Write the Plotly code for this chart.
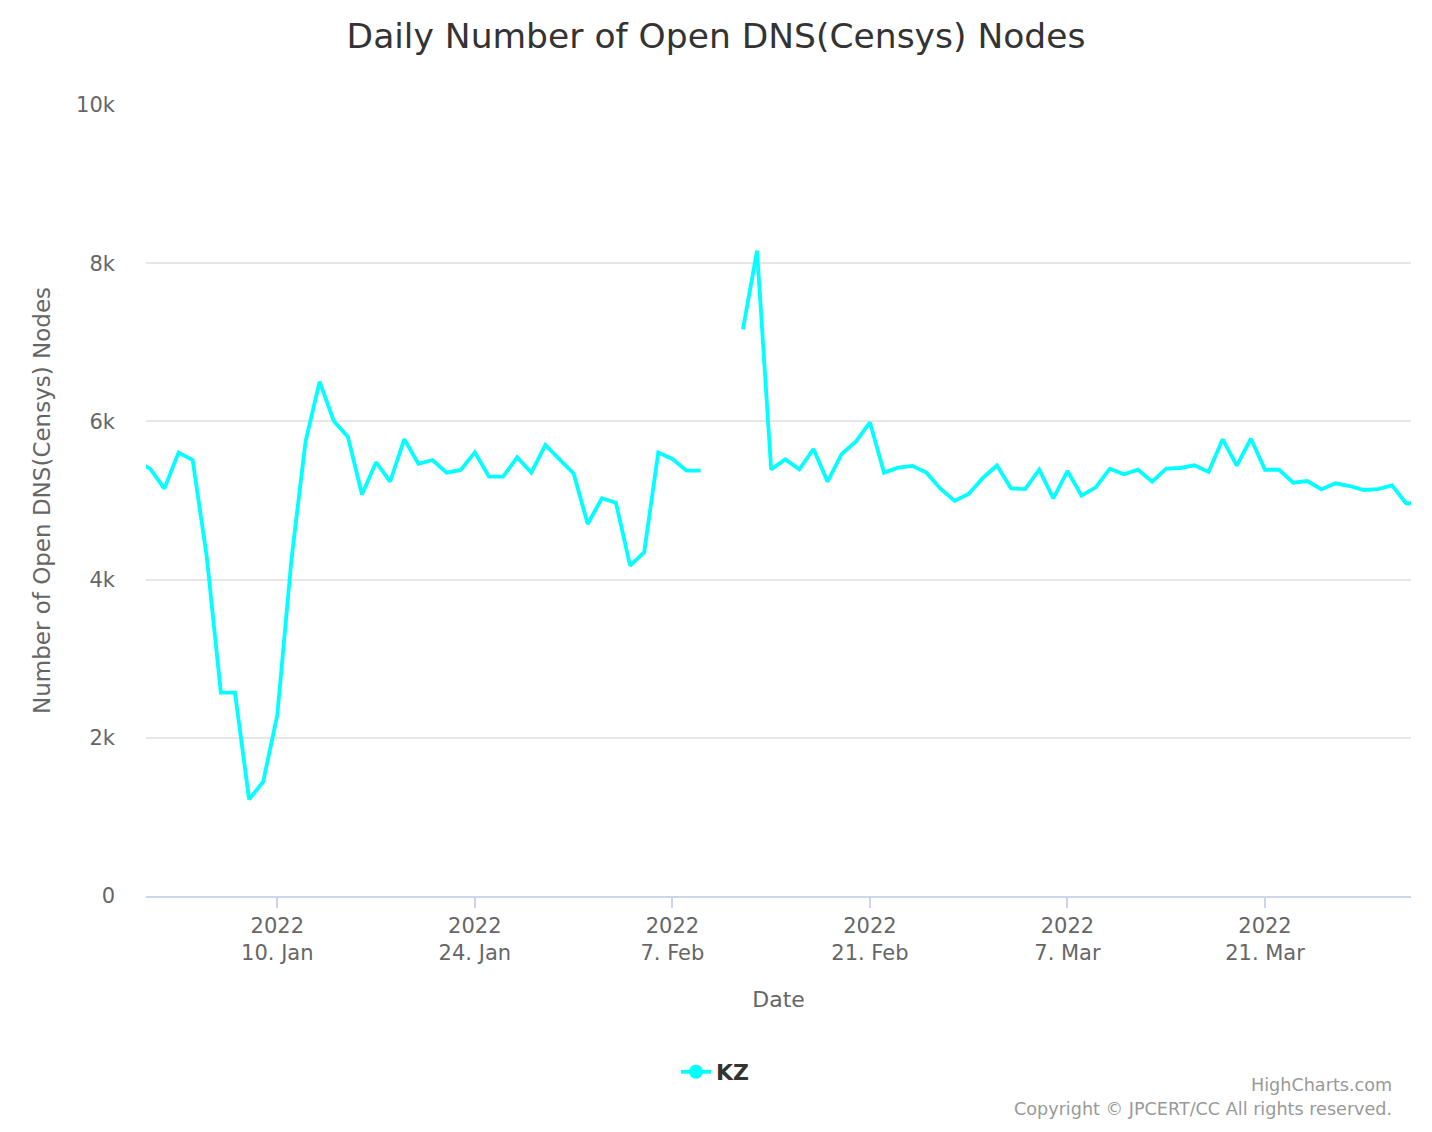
import plotly.graph_objects as go
import pandas as pd

# daily counts, Dec 31 2021 .. Apr 1 2022 (edges clipped by the axis range)
dec_2021 = [5500]
jan_2022 = [5400, 5150, 5605, 5512, 4290, 2570, 2570, 1222, 1445, 2288,
            4250, 5744, 6502, 6005, 5807, 5075, 5483, 5240, 5775, 5465,
            5512, 5352, 5386, 5609, 5301, 5301, 5546, 5352, 5702, 5520,
            5343]
feb_2022 = [4703, 5028, 4972, 4176, 4345, 5605, 5525, 5377, 5377, None,
            None, 7164, 8158, 5394, 5520, 5394, 5651, 5238, 5588, 5744,
            5988, 5352, 5415, 5438, 5352, 5150, 4996, 5082]
mar_2022 = [5285, 5443, 5154, 5145, 5389, 5028, 5373, 5061, 5167, 5402,
            5331, 5389, 5238, 5402, 5411, 5445, 5360, 5773, 5440, 5781,
            5389, 5389, 5225, 5246, 5141, 5217, 5183, 5133, 5145, 5192,
            4965]
apr_2022 = [4965]

kz = dec_2021 + jan_2022 + feb_2022 + mar_2022 + apr_2022
dates = pd.date_range("2021-12-31", periods=len(kz), freq="D")

line_color = "#00ffff"
font = "DejaVu Sans"

# the page puts the figure 8px in from the top-left corner
W, H = 1424, 1124

fig = go.Figure()
fig.add_trace(go.Scatter(x=dates, y=kz, mode="lines", name="KZ",
                         line=dict(color=line_color, width=3.8),
                         connectgaps=False, showlegend=False))
# legend entry (line + circle like the original)
fig.add_trace(go.Scatter(x=[None], y=[None], mode="lines+markers", name="KZ",
                         line=dict(color=line_color, width=3.8),
                         marker=dict(color=line_color, size=14)))

fig.update_layout(
    width=W, height=H,
    paper_bgcolor="white", plot_bgcolor="white",
    margin=dict(l=138, r=21, t=97, b=236),
    font=dict(family=font, color="#666666"),
    title=dict(text="Daily Number of Open DNS(Censys) Nodes",
               x=(716 - 8) / W, xanchor="center", y=1 - 28 / H, yanchor="middle",
               font=dict(size=34.5, color="#333333", family=font)),
    showlegend=True,
    legend=dict(orientation="h", xref="container", yref="container",
                x=(715 - 8) / W, xanchor="center", y=1 - 1064 / H, yanchor="middle",
                font=dict(size=22, color="#333333", family=font, weight="bold")),
)

fig.update_xaxes(
    range=["2021-12-31 16:40", "2022-03-31 08:20"],
    tick0="2022-01-10", dtick=14 * 86400000,
    tickformat="%Y<br>%-d. %b",
    tickfont=dict(size=21, color="#666666"),
    ticks="outside", ticklen=10, tickcolor="#ccd6eb", tickwidth=1.5,
    showline=True, linecolor="#ccd6eb", linewidth=1.5,
    showgrid=False, zeroline=False,
    title=dict(text="Date", standoff=27, font=dict(size=22, color="#666666")),
)

fig.update_yaxes(
    range=[0, 10000], dtick=2000, tickformat="~s",
    tickfont=dict(size=21, color="#666666"),
    ticklabelstandoff=30,
    showgrid=True, gridcolor="#e6e6e6", gridwidth=1.5,
    zeroline=False, showline=False,
    title=dict(text="Number of Open DNS(Censys) Nodes", standoff=19,
               font=dict(size=23, color="#666666")),
)

fig.add_annotation(text="HighCharts.com", xref="paper", yref="paper",
                   x=(1394 - 146) / 1265, y=(896 - 1085) / 791,
                   xanchor="right", yanchor="middle", showarrow=False,
                   font=dict(size=17.6, color="#999999", family=font))
fig.add_annotation(text="Copyright © JPCERT/CC All rights reserved.",
                   xref="paper", yref="paper",
                   x=(1394 - 146) / 1265, y=(896 - 1109) / 791,
                   xanchor="right", yanchor="middle", showarrow=False,
                   font=dict(size=17.6, color="#999999", family=font))

fig.write_html("out.html")
